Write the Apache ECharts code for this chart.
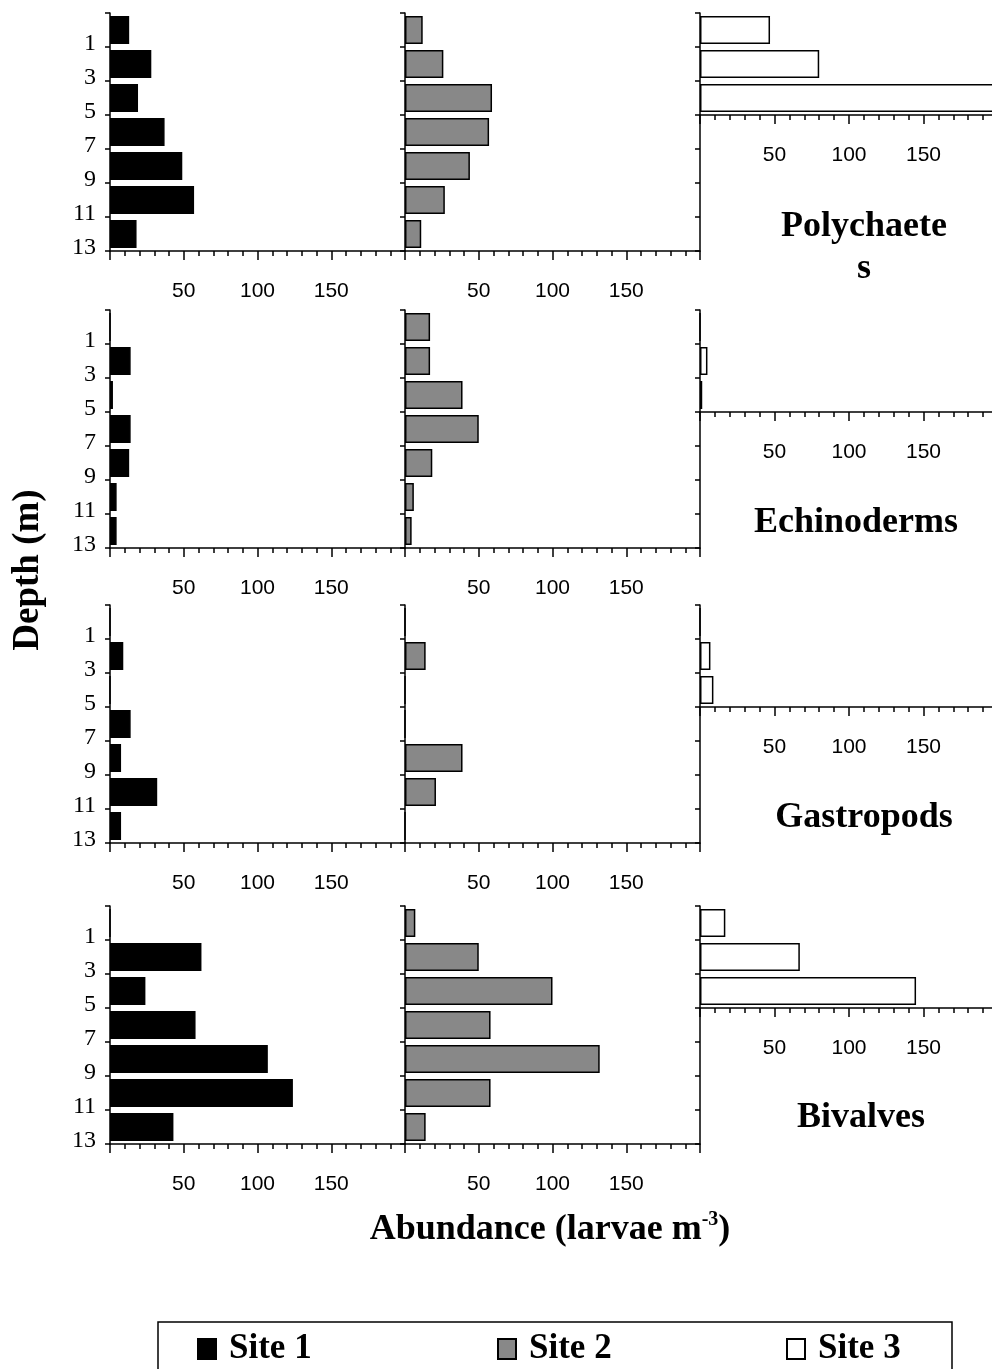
<!DOCTYPE html>
<html>
<head>
<meta charset="utf-8">
<script src="https://cdn.jsdelivr.net/npm/echarts@6/dist/echarts.min.js"></script>
<style>
  html, body { margin: 0; padding: 0; background: #fff; }
  #chart { width: 992px; height: 1369px; }
</style>
</head>
<body>
<div id="chart"></div>
<script>
// ---- data ----
const depths = ['1', '3', '5', '7', '9', '11', '13'];
const site3Depths = ['1', '3', '5'];
const groupTitles = ['Polychaete\ns', 'Echinoderms', 'Gastropods', 'Bivalves'];
const siteNames = ['Site 1', 'Site 2', 'Site 3'];
const xTickLabels = [50, 100, 150];

const polySite1 = [13, 28, 19, 37, 49, 57, 18];
const polySite2 = [12, 26, 59, 57, 44, 27, 11];
const polySite3 = [47, 80, 230];
const echiSite1 = [0, 14, 2, 14, 13, 4.5, 4.5];
const echiSite2 = [17, 17, 39, 50, 18.5, 6, 4.5];
const echiSite3 = [0, 5, 1.5];
const gastSite1 = [0, 9, 0, 14, 7.5, 32, 7.5];
const gastSite2 = [0, 14, 0, 0, 39, 21, 0];
const gastSite3 = [0, 7, 9];
const bivaSite1 = [0, 62, 24, 58, 107, 124, 43];
const bivaSite2 = [7, 50, 100, 58, 132, 58, 14];
const bivaSite3 = [17, 67, 145];

const site1Data = [polySite1, echiSite1, gastSite1, bivaSite1];
const site2Data = [polySite2, echiSite2, gastSite2, bivaSite2];
const site3Data = [polySite3, echiSite3, gastSite3, bivaSite3];

// ---- layout / style ----
const rowTops = [13, 310, 605, 906];
const rowH = 238;
const bandH = rowH / depths.length;
const panelLeft = [110, 405, 700];
const panelW = [295, 295, 298];
const titlePos = [[864, 227], [856, 523], [864, 818], [861, 1118]];
const serif = '"Liberation Serif", "Times New Roman", serif';
const sans = '"Liberation Sans", Arial, sans-serif';
const black = '#000';

const siteStyles = [
  { color: '#000000', borderColor: '#000', borderWidth: 1.5 },
  { color: '#888888', borderColor: '#000', borderWidth: 1.5 },
  { color: '#ffffff', borderColor: '#000', borderWidth: 1.5 }
];

const grids = [], xAxes = [], yAxes = [], series = [];

function makeGrid(left, top, width, height) {
  return { left: left, top: top, width: width, height: height, containLabel: false, outerBoundsMode: 'none' };
}
function valueAxis(gi, show) {
  return {
    type: 'value', gridIndex: gi, min: 0, max: 200, interval: 50, show: show,
    axisLine: { show: true, onZero: false, lineStyle: { color: black, width: 1.5 } },
    axisTick: { show: true, length: 9, lineStyle: { color: black, width: 1.5 } },
    minorTick: { show: true, splitNumber: 5, length: 5, lineStyle: { color: black, width: 1.5 } },
    splitLine: { show: false },
    minorSplitLine: { show: false },
    axisLabel: {
      show: true, margin: 30, color: black, fontFamily: sans, fontSize: 21,
      formatter: v => (xTickLabels.indexOf(v) >= 0 ? String(v) : '')
    }
  };
}
function catAxis(gi, cats, showLabels, show) {
  return {
    type: 'category', gridIndex: gi, data: cats, inverse: true, show: show,
    boundaryGap: true,
    axisLine: { show: true, lineStyle: { color: black, width: 1.5 } },
    axisTick: { show: true, length: 5, alignWithLabel: false, interval: 0, lineStyle: { color: black, width: 1.5 } },
    splitLine: { show: false },
    axisLabel: {
      show: showLabels, interval: 0, margin: 14, color: black, fontFamily: serif, fontSize: 24,
      verticalAlign: 'top', lineHeight: 27
    }
  };
}

for (let r = 0; r < 4; r++) {
  const top = rowTops[r];
  // left (site 1)
  let gi = grids.length;
  grids.push(makeGrid(panelLeft[0], top, panelW[0], rowH));
  xAxes.push(valueAxis(gi, true));
  yAxes.push(catAxis(gi, depths, true, true));
  series.push({ type: 'bar', name: siteNames[0], xAxisIndex: gi, yAxisIndex: gi, data: site1Data[r],
    barWidth: 28, itemStyle: siteStyles[0], clip: true, animation: false });
  // middle (site 2)
  gi = grids.length;
  grids.push(makeGrid(panelLeft[1], top, panelW[1], rowH));
  xAxes.push(valueAxis(gi, true));
  yAxes.push(catAxis(gi, depths, false, true));
  series.push({ type: 'bar', name: siteNames[1], xAxisIndex: gi, yAxisIndex: gi, data: site2Data[r],
    barWidth: 28, itemStyle: siteStyles[1], clip: true, animation: false });
  // right full-height axis (site 3 frame)
  gi = grids.length;
  grids.push(makeGrid(panelLeft[2], top, panelW[2], rowH));
  xAxes.push(valueAxis(gi, false));
  yAxes.push(catAxis(gi, depths, false, true));
  // right bars (site 3, three shallow depths)
  gi = grids.length;
  grids.push(makeGrid(panelLeft[2], top, panelW[2], bandH * site3Depths.length));
  xAxes.push(valueAxis(gi, true));
  yAxes.push(catAxis(gi, site3Depths, false, false));
  series.push({ type: 'bar', name: siteNames[2], xAxisIndex: gi, yAxisIndex: gi, data: site3Data[r],
    barWidth: 28, itemStyle: siteStyles[2], clip: true, animation: false });
}

const legendText = { fontFamily: serif, fontWeight: 'bold', fontSize: 35, color: black, lineHeight: 36, padding: [0, 0, 0, 8] };
const legendLefts = [197, 497, 786];
const legends = siteNames.map((n, i) => ({
  show: true, data: [n], left: legendLefts[i], top: 1331, orient: 'horizontal',
  icon: 'rect', itemWidth: 18, itemHeight: 20, padding: 0, selectedMode: false,
  textStyle: legendText
}));

const graphics = [
  { type: 'rect', silent: true, shape: { x: 158, y: 1322, width: 794, height: 80 },
    style: { fill: 'none', stroke: black, lineWidth: 1.5 } },
  { type: 'text', silent: true, x: 28, y: 570, rotation: Math.PI / 2,
    style: { text: 'Depth (m)', fontFamily: serif, fontWeight: 'bold', fontSize: 37, fill: black,
      align: 'center', verticalAlign: 'middle', textAlign: 'center', textVerticalAlign: 'middle' } },
  { type: 'text', silent: true, x: 550, y: 1230,
    style: { text: '{a|Abundance (larvae m}{s|-3}{a|)}', fill: black,
      align: 'center', verticalAlign: 'middle', textAlign: 'center', textVerticalAlign: 'middle',
      rich: {
        a: { fontFamily: serif, fontWeight: 'bold', fontSize: 36, lineHeight: 40, fill: black, color: black },
        s: { fontFamily: serif, fontWeight: 'bold', fontSize: 20, lineHeight: 26, verticalAlign: 'top', fill: black, color: black }
      } } }
];
groupTitles.forEach((t, i) => {
  graphics.push({ type: 'text', silent: true, x: titlePos[i][0], y: titlePos[i][1] - 21,
    style: { text: t, fontFamily: serif, fontWeight: 'bold', fontSize: 36, lineHeight: 42, fill: black,
      align: 'center', verticalAlign: 'top', textAlign: 'center', textVerticalAlign: 'top' } });
});

const chart = echarts.init(document.getElementById('chart'), null, { renderer: 'canvas' });
chart.setOption({
  backgroundColor: '#fff',
  animation: false,
  grid: grids,
  xAxis: xAxes,
  yAxis: yAxes,
  series: series,
  legend: legends,
  graphic: graphics,
  tooltip: { show: false }
});
</script>
</body>
</html>
